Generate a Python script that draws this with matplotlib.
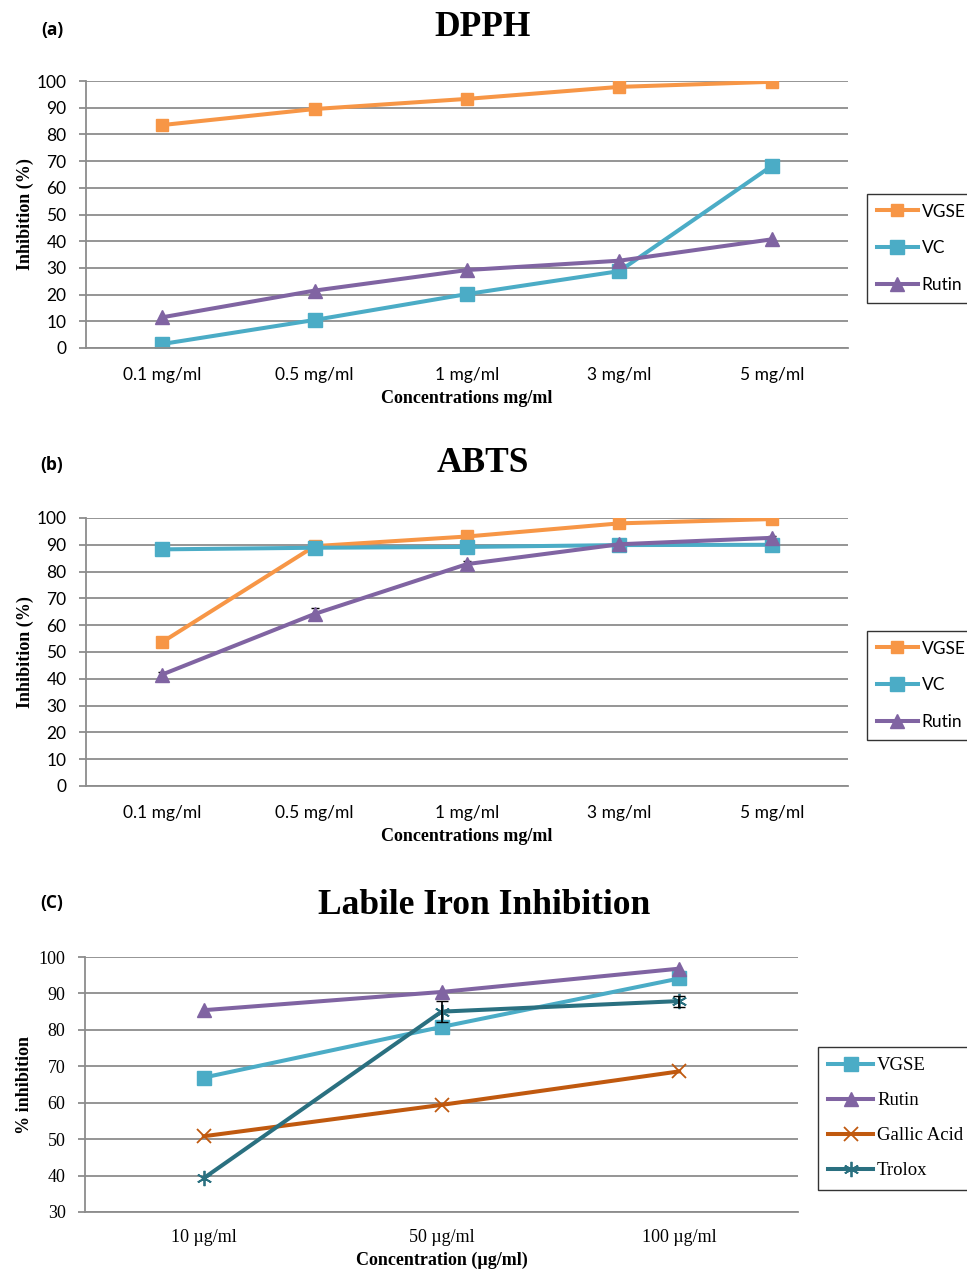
import matplotlib as mpl
import matplotlib.pyplot as plt
import numpy as np

# data
mg_conc = ['0.1 mg/ml', '0.5 mg/ml', '1 mg/ml', '3 mg/ml', '5 mg/ml']
ug_conc = ['10 µg/ml', '50 µg/ml', '100 µg/ml']

dpph_vgse = [83.5, 89.5, 93.3, 97.8, 99.7]
dpph_vc = [1.5, 10.5, 20.2, 28.8, 68.2]
dpph_rutin = [11.5, 21.5, 29.2, 32.7, 40.7]

abts_vgse = [53.7, 89.5, 93.1, 98.0, 99.6]
abts_vc = [88.3, 88.9, 89.2, 89.9, 90.0]
abts_rutin = [41.6, 64.2, 82.8, 90.2, 92.6]
abts_rutin_err = [1.0, 2.3, 1.2, 0.5, 0.5]

lip_vgse = [66.9, 80.8, 94.1]
lip_rutin = [85.4, 90.4, 96.8]
lip_gallic = [50.8, 59.4, 68.6]
lip_trolox = [39.3, 85.0, 87.9]
lip_trolox_err = [0.3, 2.8, 1.5]

ORANGE = '#F79646'
CYAN = '#4BACC6'
PURPLE = '#8064A2'
RUST = '#C0590F'
TEAL = '#2A7080'
GRID = '#8C8C8C'

W, H = 967, 1270
fig = plt.figure(figsize=(W / 100, H / 100), dpi=100)


def fx(px):
    return px / W


def fy(py):
    return 1 - py / H


def style_axes(ax, ncat, ylim, step, tickfont):
    ax.set_xlim(-0.5, ncat - 0.5)
    ax.set_ylim(*ylim)
    ax.set_yticks(np.arange(ylim[0], ylim[1] + 1, step))
    ax.yaxis.grid(True, color=GRID, linewidth=1.3)
    ax.set_axisbelow(True)
    for s in ['top', 'right']:
        ax.spines[s].set_visible(False)
    for s in ['left', 'bottom']:
        ax.spines[s].set_color(GRID)
        ax.spines[s].set_linewidth(1.3)
    ax.tick_params(axis='y', length=5, width=1.3, color=GRID, pad=9,
                   labelsize=12.5)
    ax.tick_params(axis='x', length=0, pad=14, labelsize=12.5)
    for lab in ax.get_xticklabels() + ax.get_yticklabels():
        lab.set_fontfamily(tickfont)


def mg_panel(rect, title, tag, vgse, vc, rutin, rutin_err, tag_y, title_y, leg_y):
    ax = fig.add_axes(rect)
    x = np.arange(len(mg_conc))
    ax.plot(x, vgse, color=ORANGE, lw=2.9, marker='s', ms=8.5, label='VGSE')
    ax.plot(x, vc, color=CYAN, lw=2.9, marker='s', ms=10.5, label='VC')
    ax.plot(x, rutin, color=PURPLE, lw=2.9, marker='^', ms=10.5, label='Rutin')
    if rutin_err is not None:
        ax.errorbar(x, rutin, yerr=rutin_err, fmt='none', ecolor='black',
                    elinewidth=1, capsize=3, zorder=1)
    ax.set_xticks(x)
    ax.set_xticklabels(mg_conc)
    style_axes(ax, len(mg_conc), (0, 100), 10, 'Lato')
    ax.set_xlabel('Concentrations mg/ml', family='Liberation Serif',
                  weight='bold', fontsize=13, labelpad=5)
    ax.set_ylabel('Inhibition (%)', family='Liberation Serif',
                  weight='bold', fontsize=13, labelpad=2)
    fig.text(fx(483), fy(title_y), title, family='Liberation Serif',
             weight='bold', fontsize=25.5, ha='center', va='center')
    fig.text(fx(52), fy(tag_y), tag, family='Open Sans', weight='bold',
             fontsize=12.5, ha='center', va='center')
    leg = ax.legend(loc='upper left', bbox_to_anchor=(fx(867), fy(leg_y)),
                    bbox_transform=fig.transFigure, prop={'family': 'Lato', 'size': 12.5},
                    frameon=True, fancybox=False, edgecolor='black',
                    handlelength=2.4, handletextpad=0.2, labelspacing=1.2,
                    borderpad=0.55, borderaxespad=0)
    leg.get_frame().set_linewidth(1.0)
    return ax


mg_panel([fx(86), fy(348), fx(848) - fx(86), fy(81) - fy(348)],
         'DPPH', '(a)', dpph_vgse, dpph_vc, dpph_rutin, None, 30, 27, 194)
mg_panel([fx(86), fy(786), fx(848) - fx(86), fy(518) - fy(786)],
         'ABTS', '(b)', abts_vgse, abts_vc, abts_rutin, abts_rutin_err, 465, 464, 631)

# panel c - labile iron
ax = fig.add_axes([fx(85), fy(1212), fx(798) - fx(85), fy(957) - fy(1212)])
x = np.arange(len(ug_conc))
ax.plot(x, lip_vgse, color=CYAN, lw=2.9, marker='s', ms=10.5, label='VGSE')
ax.plot(x, lip_rutin, color=PURPLE, lw=2.9, marker='^', ms=10.5, label='Rutin')
ax.plot(x, lip_gallic, color=RUST, lw=2.9, marker='x', ms=10, mew=1.3,
        label='Gallic Acid')
ax.plot(x, lip_trolox, color=TEAL, lw=2.9, marker=(6, 2, 0), ms=11, mew=1.3,
        label='Trolox')
ax.errorbar(x[1:], lip_trolox[1:], yerr=lip_trolox_err[1:], fmt='none',
            ecolor='black', elinewidth=1.2, capsize=4, zorder=3)
ax.set_xticks(x)
ax.set_xticklabels(ug_conc)
style_axes(ax, len(ug_conc), (30, 100), 10, 'Liberation Serif')
ax.tick_params(axis='x', pad=12, labelsize=13)
ax.tick_params(axis='y', labelsize=13)
ax.set_xlabel('Concentration (µg/ml)', family='Liberation Serif',
              weight='bold', fontsize=13, labelpad=4)
ax.set_ylabel('% inhibition', family='Liberation Serif', weight='bold',
              fontsize=13, labelpad=4)
fig.text(fx(484), fy(905), 'Labile Iron Inhibition', family='Liberation Serif',
         weight='bold', fontsize=25.5, ha='center', va='center')
fig.text(fx(52), fy(903), '(C)', family='Open Sans', weight='bold', fontsize=12.5,
         ha='center', va='center')
leg = ax.legend(loc='upper left', bbox_to_anchor=(fx(818), fy(1047)),
                bbox_transform=fig.transFigure,
                prop={'family': 'Liberation Serif', 'size': 13.5},
                frameon=True, fancybox=False, edgecolor='black',
                handlelength=2.4, handletextpad=0.2, labelspacing=0.95,
                borderpad=0.55, borderaxespad=0)
leg.get_frame().set_linewidth(1.0)

plt.savefig('out.png', dpi=100)
